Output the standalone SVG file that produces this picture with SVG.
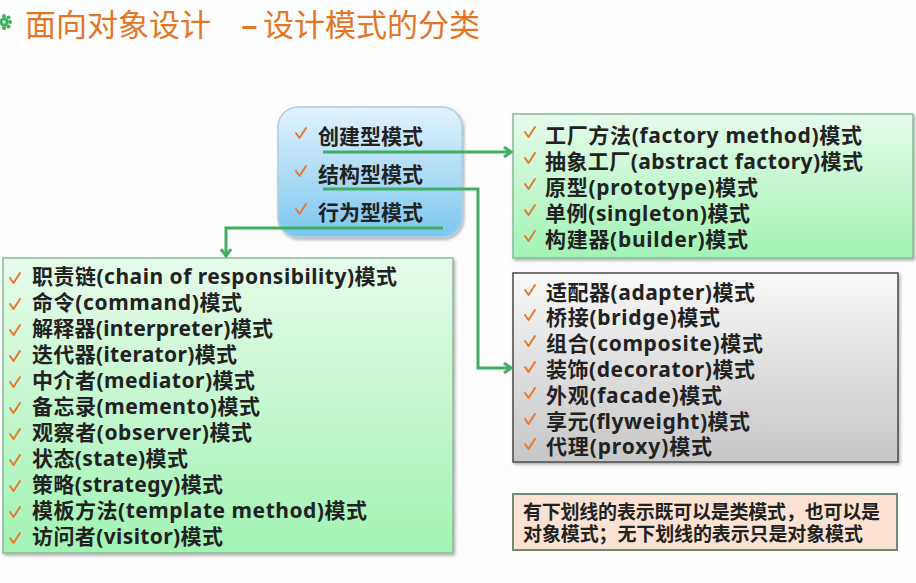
<svg xmlns="http://www.w3.org/2000/svg" width="916" height="583" viewBox="0 0 916 583">
<defs>
<style>
.t{font-family:"Noto Sans","Noto Sans CJK SC",sans-serif;font-weight:bold;font-size:21px;fill:#222}
.tn{font-family:"Noto Sans CJK SC",sans-serif;font-weight:bold;font-size:19px;fill:#222}
.title{font-family:"Noto Sans CJK SC",sans-serif;font-size:31px;fill:#E37525}
.ck{fill:none;stroke:#E8782E;stroke-width:2;stroke-linecap:round;stroke-linejoin:round}
.conn{fill:none;stroke:#3FAE62;stroke-width:3;stroke-linejoin:miter}
</style>
<linearGradient id="gGreen" x1="0" y1="0" x2="0" y2="1">
<stop offset="0" stop-color="#e6fbea"/>
<stop offset="1" stop-color="#a2f3b4"/>
</linearGradient>
<linearGradient id="gBlue" x1="0" y1="0" x2="0" y2="1">
<stop offset="0" stop-color="#e2f3fc"/>
<stop offset="1" stop-color="#7cc6f0"/>
</linearGradient>
<linearGradient id="gGray" x1="0" y1="0" x2="0" y2="1">
<stop offset="0" stop-color="#f8f8f8"/>
<stop offset="1" stop-color="#c6c6c6"/>
</linearGradient>
<filter id="sh" x="-5%" y="-5%" width="110%" height="115%">
<feDropShadow dx="1.5" dy="2" stdDeviation="1.5" flood-color="#000" flood-opacity="0.3"/>
</filter>
<path id="chk" class="ck" d="M0,5 L3.5,10 L10,0"/>
<marker id="arr" markerWidth="12" markerHeight="12" refX="9" refY="6" orient="auto" markerUnits="userSpaceOnUse">
<path d="M2,1 L9,6 L2,11" fill="none" stroke="#3FAE62" stroke-width="3"/>
</marker>
</defs>
<rect width="916" height="583" fill="#fdfdfd"/>

<g id="title">
<g fill="#3db05a">
<circle cx="4" cy="22" r="4.5"/>
<circle cx="4" cy="16" r="2"/>
<circle cx="4" cy="28" r="2"/>
<circle cx="10" cy="22" r="2"/>
<circle cx="8.5" cy="17.5" r="2"/>
<circle cx="8.5" cy="26.5" r="2"/>
</g>
<circle cx="4" cy="22" r="1.8" fill="#c8f2d2"/>
<text class="title" y="36"><tspan x="25">面向对象设计</tspan><tspan x="241" font-weight="bold">–</tspan><tspan x="263">设计模式的分类</tspan></text>
</g>

<g id="categories">
<rect x="278" y="107" width="184" height="130" rx="20" fill="url(#gBlue)" stroke="#a9cfe6" stroke-width="1.5" filter="url(#sh)"/>
<use href="#chk" x="296" y="128"/>
<use href="#chk" x="296" y="166"/>
<use href="#chk" x="296" y="204"/>
<text class="t" x="318" y="144">创建型模式</text>
<text class="t" x="318" y="182">结构型模式</text>
<text class="t" x="318" y="220">行为型模式</text>
</g>

<g id="creational">
<rect x="513" y="114" width="400" height="144" fill="url(#gGreen)" stroke="#86bb96" stroke-width="1.5" filter="url(#sh)"/>
<use href="#chk" x="525" y="127"/>
<use href="#chk" x="525" y="153"/>
<use href="#chk" x="525" y="179"/>
<use href="#chk" x="525" y="205"/>
<use href="#chk" x="525" y="231"/>
<text class="t" x="545" y="143" textLength="317" lengthAdjust="spacing">工厂方法(factory method)模式</text>
<text class="t" x="545" y="169" textLength="318" lengthAdjust="spacing">抽象工厂(abstract factory)模式</text>
<text class="t" x="545" y="195" textLength="213" lengthAdjust="spacing">原型(prototype)模式</text>
<text class="t" x="545" y="221" textLength="205" lengthAdjust="spacing">单例(singleton)模式</text>
<text class="t" x="545" y="247" textLength="203" lengthAdjust="spacing">构建器(builder)模式</text>
</g>

<g id="structural">
<rect x="513" y="273" width="385" height="189" fill="url(#gGray)" stroke="#4a4a4a" stroke-width="1.5" filter="url(#sh)"/>
<use href="#chk" x="525" y="285"/>
<use href="#chk" x="525" y="310"/>
<use href="#chk" x="525" y="336"/>
<use href="#chk" x="525" y="362"/>
<use href="#chk" x="525" y="388"/>
<use href="#chk" x="525" y="414"/>
<use href="#chk" x="525" y="439"/>
<text class="t" x="546" y="300" textLength="209" lengthAdjust="spacing">适配器(adapter)模式</text>
<text class="t" x="546" y="325" textLength="174" lengthAdjust="spacing">桥接(bridge)模式</text>
<text class="t" x="546" y="351" textLength="217" lengthAdjust="spacing">组合(composite)模式</text>
<text class="t" x="546" y="377" textLength="209" lengthAdjust="spacing">装饰(decorator)模式</text>
<text class="t" x="546" y="403" textLength="176" lengthAdjust="spacing">外观(facade)模式</text>
<text class="t" x="546" y="429" textLength="204" lengthAdjust="spacing">享元(flyweight)模式</text>
<text class="t" x="546" y="454" textLength="166" lengthAdjust="spacing">代理(proxy)模式</text>
</g>

<g id="behavioral">
<rect x="3" y="258" width="450" height="295" fill="url(#gGreen)" stroke="#86bb96" stroke-width="1.5" filter="url(#sh)"/>
<use href="#chk" x="10" y="273"/>
<use href="#chk" x="10" y="299"/>
<use href="#chk" x="10" y="325"/>
<use href="#chk" x="10" y="351"/>
<use href="#chk" x="10" y="377"/>
<use href="#chk" x="10" y="403"/>
<use href="#chk" x="10" y="429"/>
<use href="#chk" x="10" y="455"/>
<use href="#chk" x="10" y="481"/>
<use href="#chk" x="10" y="507"/>
<use href="#chk" x="10" y="533"/>
<text class="t" x="32" y="284" textLength="365" lengthAdjust="spacing">职责链(chain of responsibility)模式</text>
<text class="t" x="32" y="310" textLength="210" lengthAdjust="spacing">命令(command)模式</text>
<text class="t" x="32" y="336" textLength="241" lengthAdjust="spacing">解释器(interpreter)模式</text>
<text class="t" x="32" y="362" textLength="205" lengthAdjust="spacing">迭代器(iterator)模式</text>
<text class="t" x="32" y="388" textLength="223" lengthAdjust="spacing">中介者(mediator)模式</text>
<text class="t" x="32" y="414" textLength="228" lengthAdjust="spacing">备忘录(memento)模式</text>
<text class="t" x="32" y="440" textLength="220" lengthAdjust="spacing">观察者(observer)模式</text>
<text class="t" x="32" y="466" textLength="156" lengthAdjust="spacing">状态(state)模式</text>
<text class="t" x="32" y="492" textLength="191" lengthAdjust="spacing">策略(strategy)模式</text>
<text class="t" x="32" y="518" textLength="335" lengthAdjust="spacing">模板方法(template method)模式</text>
<text class="t" x="32" y="544" textLength="191" lengthAdjust="spacing">访问者(visitor)模式</text>
</g>

<g id="note">
<rect x="513" y="494" width="384" height="56" fill="#fbe2d2" stroke="#6f8a70" stroke-width="2"/>
<text class="tn" x="523" y="519" textLength="357" lengthAdjust="spacing">有下划线的表示既可以是类模式，也可以是</text>
<text class="tn" x="523" y="541" textLength="340" lengthAdjust="spacing">对象模式；无下划线的表示只是对象模式</text>
</g>

<g id="connectors">
<path class="conn" d="M323,152 H511" marker-end="url(#arr)"/>
<path class="conn" d="M323,189 H478 V368 H511" marker-end="url(#arr)"/>
<path class="conn" d="M443,228 H226 V256" marker-end="url(#arr)"/>
</g>
</svg>
